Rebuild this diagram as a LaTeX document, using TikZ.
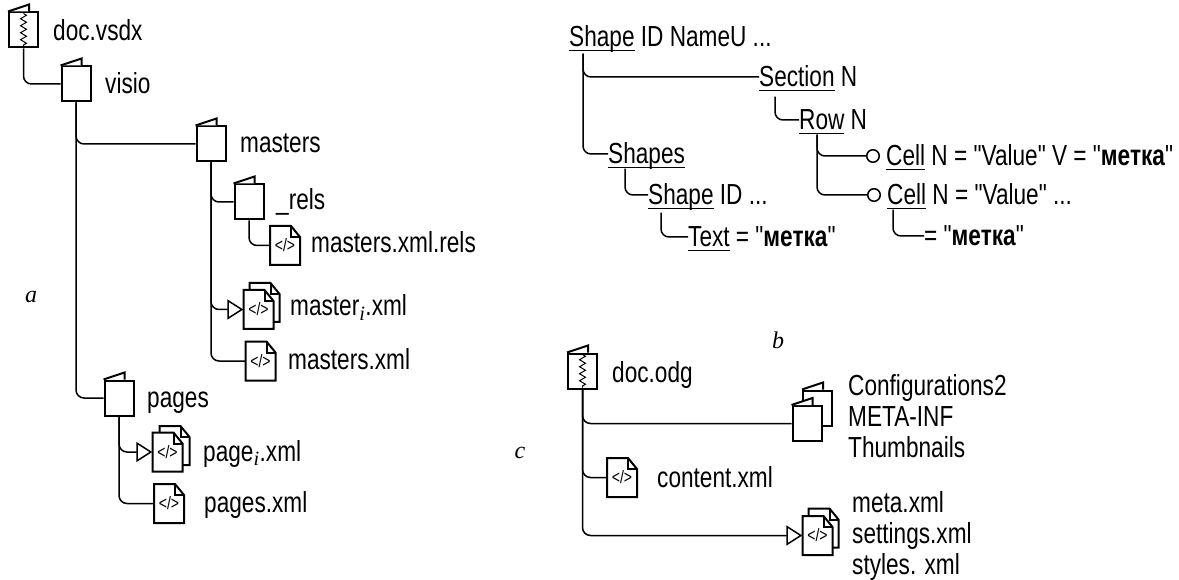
\documentclass[tikz,border=0pt]{standalone}
\usepackage{fontspec}
\setmainfont{Liberation Sans}[Ligatures=TeXOff,FakeStretch=0.78]
\newfontfamily\lettersfont{Liberation Serif}
\usetikzlibrary{arrows.meta,calc,decorations.pathmorphing}
\newcommand{\ul}[1]{\setbox0\hbox{#1}\rlap{\rule[-4.5pt]{\wd0}{1.5pt}}\box0\relax}
\newcommand{\subi}{\textsubscript{\lettersfont\itshape i}}
\tikzset{
  iconline/.style={line width=2pt},
  link/.style={line width=1.5pt,rounded corners=8pt},
  openarrow/.style={link,-{Triangle[open,fill=white,length=16pt,width=20pt]}},
  bulbarrow/.style={link,-{Circle[open,fill=white,length=14pt]},shorten >=6pt},
  folderbody/.style={draw,iconline,fill=white,minimum width=29pt,minimum height=35pt,inner sep=0pt},
  filebody/.style={minimum width=30pt,minimum height=39pt,inner sep=0pt,font=\fontsize{18}{18}\selectfont},
  lbl/.style={anchor=west,inner sep=0pt,text height=24.5pt,text depth=4.5pt},
  listlbl/.style={anchor=west,inner sep=0pt,align=left,font=\fontsize{29}{31}\selectfont},
  letterlbl/.style={inner sep=0pt,font=\fontsize{24}{24}\lettersfont\itshape}
}
\newcommand{\foldericon}[2]{
  \node[folderbody] (#1) at (#2) {};
  \draw[iconline,fill=white] (#1.north west) -- ++(21,-7) -- ++(0,7);
}
\newcommand{\zipicon}[2]{
  \foldericon{#1}{#2}
  \draw[line width=1pt,decorate,decoration={zigzag,segment length=7pt,amplitude=3pt}] ($(#1.north)+(0,2)$) -- ($(#1.south)+(0,-2)$);
}
\newcommand{\filesheet}[1]{
  \draw[iconline,fill=white] (#1) ++(-15,-19.5) -- ++(21,0) -- ++(9,11) -- ++(0,28) -- ++(-30,0) -- cycle;
  \draw[iconline] (#1) ++(6,-19.5) -- ++(0,11) -- ++(9,0);
}
\newcommand{\fileicon}[2]{
  \filesheet{#2}
  \node[filebody] (#1) at (#2) {\textless/\textgreater};
}
\begin{document}
\begin{tikzpicture}[x=1pt,y=-1pt,font=\fontsize{29}{31}\selectfont]
\useasboundingbox (0,0) rectangle (1179,580);
\zipicon{docvsdx}{23.5,30}
\node[lbl] (docvsdxl) at (53,31) {doc.vsdx};
\foldericon{visio}{76,84}
\node[lbl] (visiol) at (105,84) {visio};
\foldericon{masters}{211,144}
\node[lbl] (mastersl) at (240,143) {masters};
\foldericon{rels}{249,202}
\node[lbl] (relsl) at (276,200) {\_rels};
\fileicon{relsfile}{285,245.5}
\node[lbl] (relsfilel) at (311,243) {masters.xml.rels};
\filesheet{264.5,302.5}
\fileicon{masteri}{258.5,309.5}
\node[lbl] (masteril) at (290,306) {master\subi.xml};
\fileicon{mastersfile}{260.5,361}
\node[lbl] (mastersfilel) at (288,359) {masters.xml};
\foldericon{pages}{119,398}
\node[lbl] (pagesl) at (147,397) {pages};
\filesheet{174.5,445.5}
\fileicon{pagei}{167.5,452}
\node[lbl] (pageil) at (203,451) {page\subi.xml};
\fileicon{pagesfile}{169,503.5}
\node[lbl] (pagesfilel) at (204,502) {pages.xml};
\draw[link] (docvsdx.south) |- (visio.west);
\draw[link] (visio.south) |- (masters.west);
\draw[link] (visio.south) |- (pages.west);
\draw[link] (masters.south) |- (rels.west);
\draw[openarrow] (masters.south) |- (masteri.west);
\draw[link] (masters.south) |- (mastersfile.west);
\draw[link] (rels.south) |- (relsfile.west);
\draw[openarrow] (pages.south) |- (pagei.west);
\draw[link] (pages.south) |- (pagesfile.west);
\node[letterlbl] (lettera) at (31,297) {a};
\node[lbl] (shapetop) at (569,37) {\ul{Shape} ID NameU ...};
\node[lbl] (section) at (759,77) {\ul{Section} N};
\node[lbl] (rown) at (799,120) {\ul{Row} N};
\node[lbl] (cella) at (886,156) {\ul{Cell} N = "Value" V = "\textbf{метка}"};
\node[lbl] (cellb) at (887,195) {\ul{Cell} N = "Value" ...};
\node[lbl] (cellval) at (924,236) {= "\textbf{метка}"};
\node[lbl] (shapes) at (608,154) {\ul{Shapes}};
\node[lbl] (shapeid) at (648,195) {\ul{Shape} ID ...};
\node[lbl] (textval) at (688,237) {\ul{Text} = "\textbf{метка}"};
\draw[link] ($(shapetop.south west)+(14,2)$) |- (section.west);
\draw[link] ($(shapetop.south west)+(14,2)$) |- (shapes.west);
\draw[link] ($(section.south west)+(16,5)$) |- (rown.west);
\draw[bulbarrow] ($(rown.south west)+(18,0)$) |- (cella.west);
\draw[bulbarrow] ($(rown.south west)+(18,0)$) |- (cellb.west);
\draw[link] ($(cellb.south west)+(6,0)$) |- (cellval.west);
\draw[link] ($(shapes.south west)+(17,0)$) |- (shapeid.west);
\draw[link] ($(shapeid.south west)+(13,3)$) |- (textval.west);
\node[letterlbl] (letterb) at (778,340) {b};
\zipicon{docodg}{582.5,371}
\node[lbl] (docodgl) at (612,372) {doc.odg};
\foldericon{confback}{817.5,408}
\foldericon{conf}{807,423.5}
\node[listlbl] (confl) at (848,416) {Configurations2\\META-INF\\Thumbnails};
\fileicon{contentfile}{622,477.5}
\node[lbl] (contentfilel) at (657,477) {content.xml};
\filesheet{823.5,528}
\fileicon{meta}{817.5,535.5}
\node[listlbl] (metal) at (852,536) {meta.xml\\settings.xml\\styles. xml};
\draw[link] (docodg.south) |- (conf.west);
\draw[link] (docodg.south) |- (contentfile.west);
\draw[openarrow] (docodg.south) |- (meta.west);
\node[letterlbl] (letterc) at (520,453) {c};
\end{tikzpicture}
\end{document}
